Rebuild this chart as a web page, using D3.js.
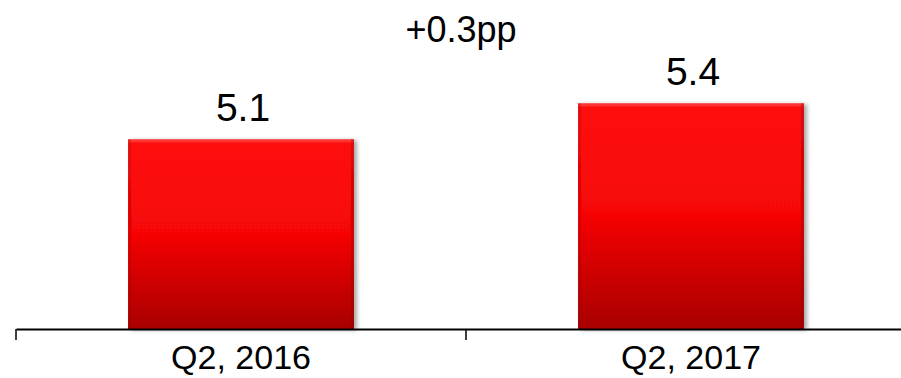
<!DOCTYPE html>
<html>
<head>
  <style>
    body {
      margin: 0;
      background: #fff;
      font-family: "Liberation Sans", Arial, sans-serif;
    }
    .value {
      font-size: 39px;
      text-anchor: middle;
      fill: #000;
    }
    .delta {
      font-size: 36px;
      text-anchor: middle;
      fill: #000;
    }
    .x.axis text {
      font-size: 34px;
      fill: #000;
      font-family: "Liberation Sans", Arial, sans-serif;
    }
  </style>
</head>
<body>
  <script src="https://d3js.org/d3.v7.min.js"></script>
  <script>
    var categories = ["Q2, 2016", "Q2, 2017"];
    var values = [5.1, 5.4];
    var valueLabels = ["5.1", "5.4"];
    var deltaLabel = "+0.3pp";

    var width = 901, height = 378;
    var axisY = 329;

    var svg = d3.select("body").append("svg")
        .attr("width", width)
        .attr("height", height);

    var x = d3.scaleBand()
      .domain(categories)
      .range([16, 916])
      .padding(0);

    var y = d3.scaleLinear()
      .domain([3.52, 6])
      .range([axisY, axisY - 2.48 * 120]);

    var barW = x.bandwidth() * 0.502;

    var defs = svg.append("defs");
    var grad = defs.append("linearGradient")
        .attr("id", "barGrad")
        .attr("x1", 0).attr("y1", 0).attr("x2", 0).attr("y2", 1);
    grad.append("stop").attr("offset", "0%").attr("stop-color", "#ff0d0d");
    grad.append("stop").attr("offset", "50%").attr("stop-color", "#f60606");
    grad.append("stop").attr("offset", "100%").attr("stop-color", "#a80000");

    var shadow = defs.append("filter")
        .attr("id", "shadow")
        .attr("x", "-5%").attr("y", "-5%").attr("width", "115%").attr("height", "115%");
    shadow.append("feGaussianBlur").attr("in", "SourceAlpha").attr("stdDeviation", 2);
    shadow.append("feOffset").attr("dx", 3).attr("dy", 1).attr("result", "off");
    shadow.append("feComponentTransfer").append("feFuncA").attr("type", "linear").attr("slope", 0.35);
    var merge = shadow.append("feMerge");
    merge.append("feMergeNode");
    merge.append("feMergeNode").attr("in", "SourceGraphic");

    var bar = svg.selectAll(".bar")
      .data(values)
      .enter().append("g")
        .attr("class", "bar")
        .attr("filter", "url(#shadow)");

    bar.append("rect")
        .attr("x", function(d, i){ return x(categories[i]) + (x.bandwidth() - barW) / 2; })
        .attr("y", function(d){ return y(d); })
        .attr("width", barW)
        .attr("height", function(d){ return axisY - y(d); })
        .attr("fill", "url(#barGrad)");

    // bevel: light top edge, darker sides
    bar.append("rect")
        .attr("x", function(d, i){ return x(categories[i]) + (x.bandwidth() - barW) / 2; })
        .attr("y", function(d){ return y(d); })
        .attr("width", barW)
        .attr("height", 3)
        .attr("fill", "#ff5050")
        .attr("opacity", 0.6);
    bar.append("rect")
        .attr("x", function(d, i){ return x(categories[i]) + (x.bandwidth() + barW) / 2 - 3; })
        .attr("y", function(d){ return y(d); })
        .attr("width", 3)
        .attr("height", function(d){ return axisY - y(d); })
        .attr("fill", "#900000")
        .attr("opacity", 0.35);
    bar.append("rect")
        .attr("x", function(d, i){ return x(categories[i]) + (x.bandwidth() - barW) / 2; })
        .attr("y", function(d){ return y(d); })
        .attr("width", 3)
        .attr("height", function(d){ return axisY - y(d); })
        .attr("fill", "#900000")
        .attr("opacity", 0.25);

    svg.selectAll(".value")
      .data(values)
      .enter().append("text")
        .attr("class", "value")
        .attr("x", function(d, i){ return x(categories[i]) + x.bandwidth() / 2 + 2; })
        .attr("y", function(d){ return y(d) - 18; })
        .text(function(d, i){ return valueLabels[i]; });

    svg.append("text")
        .attr("class", "delta")
        .attr("x", x(categories[1]) - 5)
        .attr("y", y(values[1]) - 61)
        .text(deltaLabel);

    var x_axis = d3.axisBottom(x).tickSize(0).tickSizeOuter(0).tickPadding(10);

    var gx = svg.append("g")
        .attr("class", "x axis")
        .attr("transform", "translate(0," + axisY + ")")
        .call(x_axis);

    gx.select(".domain").attr("stroke", "#000").attr("stroke-width", 2);
    gx.selectAll(".tick text").attr("dy", "0.88em");

    gx.selectAll(".sep")
      .data(categories)
      .enter().append("line")
        .attr("class", "sep")
        .attr("x1", function(d){ return x(d); })
        .attr("x2", function(d){ return x(d); })
        .attr("y1", 0)
        .attr("y2", 11)
        .attr("stroke", "#000")
        .attr("stroke-width", 1.5);
  </script>
</body>
</html>
